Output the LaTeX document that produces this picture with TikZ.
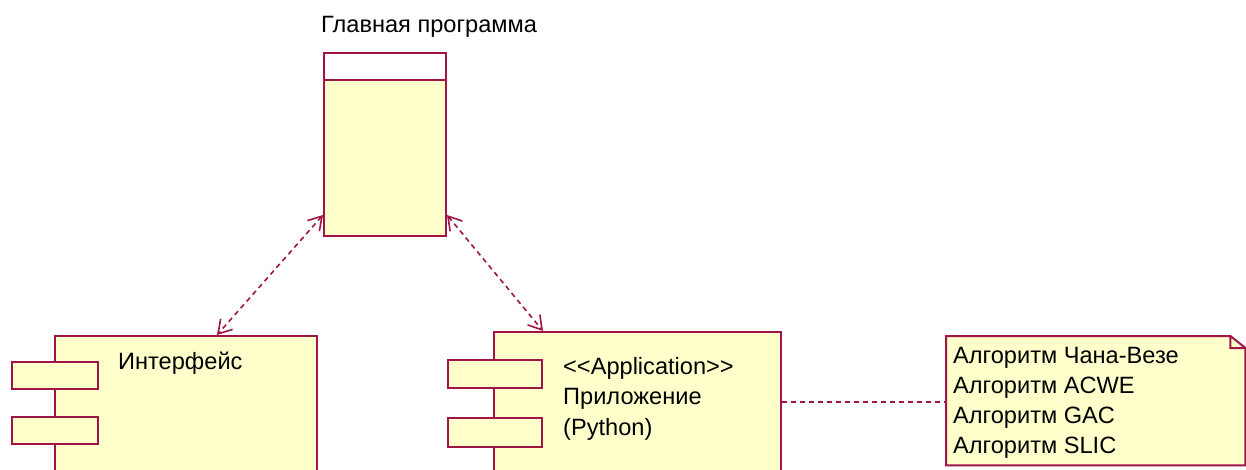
\documentclass[tikz,border=0pt]{standalone}
\usepackage{fontspec}
\setmainfont{Liberation Sans}
\usetikzlibrary{arrows.meta,calc}
\definecolor{umlline}{RGB}{160,20,70}
\definecolor{umlfill}{RGB}{255,255,204}
\tikzset{
  umlbox/.style={draw=umlline, fill=umlfill, line width=2pt, inner sep=0pt, anchor=north west},
  port/.style={umlbox, minimum width=86pt, minimum height=27pt},
  dep/.style={draw=umlline, line width=1.6pt, dash pattern=on 5pt off 4pt,
    {Straight Barb[length=13pt,width=16pt]}-{Straight Barb[length=13pt,width=16pt]}},
  link/.style={draw=umlline, line width=1.6pt, dash pattern=on 5pt off 4pt},
  lbl/.style={inner sep=0pt, anchor=west, font=\fontsize{23.6}{30.5}\selectfont},
}
\begin{document}
\begin{tikzpicture}[x=1pt,y=-1pt]
\useasboundingbox (0,0) rectangle (1246,470);

% main program: header compartment and body
\node[umlbox, minimum width=122pt, minimum height=183pt] (main) at (323,52) {};
\node[umlbox, fill=white, minimum width=122pt, minimum height=27pt] (mainhead) at (323,52) {};
\node[lbl] (maintitle) at (321,27) {Главная программа};

% interface component
\node[umlbox, minimum width=262pt, minimum height=150pt] (iface) at (54,335) {};
\node[port] (ifp1) at (11,361) {};
\node[port] (ifp2) at (11,416) {};
\node[lbl] (ifacetext) at (118,363) {Интерфейс};

% application component
\node[umlbox, minimum width=287pt, minimum height=150pt] (app) at (493,331) {};
\node[port, minimum width=94pt, minimum height=28pt] (app1) at (447,359) {};
\node[port, minimum width=94pt, minimum height=29pt] (app2) at (447,417) {};
\node[lbl, anchor=north west, align=left] (apptext) at (563,357)
  {{<}{<}Application{>}{>}\\Приложение\\(Python)};

% note with folded corner
\node[inner sep=0pt, anchor=north west, minimum width=299pt, minimum height=129pt] (note) at (946,336) {};
\fill[umlfill] (note.north west) -- ([xshift=-15pt]note.north east)
  -- ([yshift=-12pt]note.north east) -- (note.south east) -- (note.south west) -- cycle;
\draw[umlline, line width=2pt] ([yshift=-12pt]note.north east) -- ([xshift=-15pt]note.north east)
  -- (note.north west) -- (note.south west) -- (note.south east) -- ([yshift=-12pt]note.north east)
  -- ([xshift=-15pt,yshift=-12pt]note.north east) -- ([xshift=-15pt]note.north east);
\node[lbl, anchor=north west, align=left, font=\fontsize{23.6}{30}\selectfont] (notetext) at (953,347)
  {Алгоритм Чана-Везе\\Алгоритм ACWE\\Алгоритм GAC\\Алгоритм SLIC};

% dependencies
\coordinate (appport) at ([yshift=-71pt]app.north east);
\draw[dep] ([yshift=22pt]main.south west) -- ([xshift=163pt]iface.north west);
\draw[dep] ([yshift=22pt]main.south east) -- ([xshift=50pt]app.north west);
\draw[link] (appport) -- (note.west |- appport);
\end{tikzpicture}
\end{document}
